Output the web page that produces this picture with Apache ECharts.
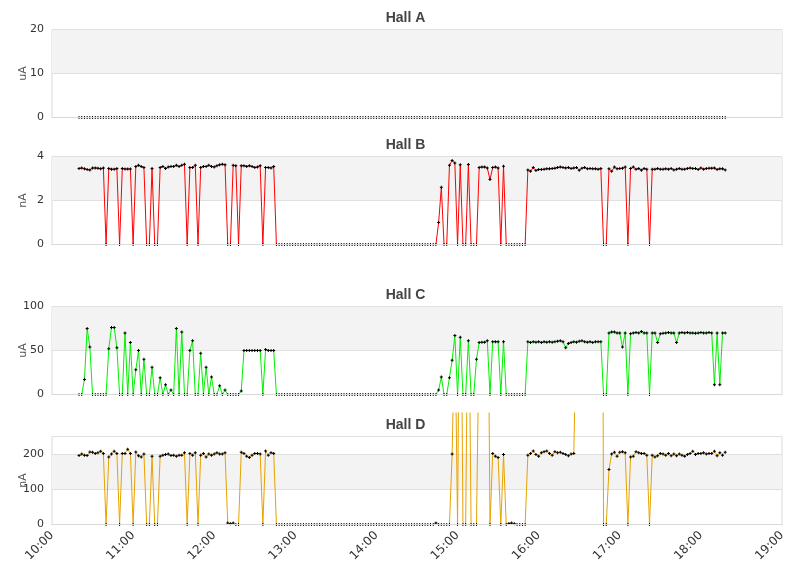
<!DOCTYPE html>
<html><head><meta charset="utf-8">
<script src="https://cdn.jsdelivr.net/npm/echarts@6/dist/echarts.min.js"></script>
<style>html,body{margin:0;padding:0;background:#fff}#chart{width:811px;height:578px}</style>
</head><body><div id="chart"></div><script>
// Sampling: one reading every 2 minutes from 10:20 (minutes since midnight)
const startMinute = 620;
const stepMinutes = 2;
const xTicksMin = 600, xTicksMax = 1140, xTickStep = 60;

const hallA = [
0,0,0,0,0,0,0,0,0,0,0,0,0,0,0,0,0,0,0,0,
0,0,0,0,0,0,0,0,0,0,0,0,0,0,0,0,0,0,0,0,
0,0,0,0,0,0,0,0,0,0,0,0,0,0,0,0,0,0,0,0,
0,0,0,0,0,0,0,0,0,0,0,0,0,0,0,0,0,0,0,0,
0,0,0,0,0,0,0,0,0,0,0,0,0,0,0,0,0,0,0,0,
0,0,0,0,0,0,0,0,0,0,0,0,0,0,0,0,0,0,0,0,
0,0,0,0,0,0,0,0,0,0,0,0,0,0,0,0,0,0,0,0,
0,0,0,0,0,0,0,0,0,0,0,0,0,0,0,0,0,0,0,0,
0,0,0,0,0,0,0,0,0,0,0,0,0,0,0,0,0,0,0,0,
0,0,0,0,0,0,0,0,0,0,0,0,0,0,0,0,0,0,0,0,
0,0,0,0,0,0,0,0,0,0,0,0,0,0,0,0,0,0,0,0,
0,0,0,0,0,0,0,0,0,0,0,0,0,0,0,0,0,0,0,0
];

const hallB = [
3.45,3.48,3.44,3.41,3.39,3.48,3.48,3.47,3.44,3.48,
0,3.45,3.42,3.42,3.45,0,3.45,3.43,3.43,3.43,
0,3.55,3.6,3.55,3.5,0,0,3.45,0,0,
3.5,3.55,3.45,3.52,3.55,3.55,3.6,3.55,3.6,3.65,
0,3.5,3.5,3.6,0,3.5,3.55,3.55,3.6,3.55,
3.52,3.58,3.62,3.65,3.62,0,0,3.6,3.58,0,
3.58,3.58,3.55,3.58,3.55,3.5,3.52,3.58,0,3.5,
3.5,3.48,3.55,0,0,0,0,0,0,0,
0,0,0,0,0,0,0,0,0,0,
0,0,0,0,0,0,0,0,0,0,
0,0,0,0,0,0,0,0,0,0,
0,0,0,0,0,0,0,0,0,0,
0,0,0,0,0,0,0,0,0,0,
0,0,0,1.0,2.6,0,0,3.6,3.82,3.7,
0,3.62,0,0,3.64,0,0,0,3.5,3.52,
3.52,3.48,2.95,3.5,3.52,3.48,0,3.56,0,0,
0,0,0,0,0,0,3.39,3.33,3.5,3.36,
3.41,3.41,3.42,3.44,3.44,3.45,3.47,3.5,3.52,3.5,
3.48,3.5,3.45,3.48,3.5,3.38,3.47,3.5,3.44,3.45,
3.44,3.44,3.42,3.45,0,0,3.44,3.33,3.52,3.44,
3.45,3.47,3.52,0,3.45,3.52,3.42,3.45,3.38,3.45,
3.42,0,3.42,3.42,3.45,3.42,3.42,3.44,3.42,3.45,
3.39,3.42,3.45,3.42,3.42,3.45,3.48,3.45,3.45,3.41,
3.48,3.42,3.45,3.47,3.47,3.48,3.41,3.44,3.44,3.39
];

const hallC = [
0,0,17,75,54,0,0,0,0,0,
0,52,76,76,53,0,0,70,0,59,
0,28,50,0,40,0,0,31,0,0,
19,0,11,0,5,0,75,0,71,0,
0,50,61,0,0,47,0,31,0,20,
0,0,10,0,5,0,0,0,0,0,
4,50,50,50,50,50,50,50,0,51,
50,50,50,0,0,0,0,0,0,0,
0,0,0,0,0,0,0,0,0,0,
0,0,0,0,0,0,0,0,0,0,
0,0,0,0,0,0,0,0,0,0,
0,0,0,0,0,0,0,0,0,0,
0,0,0,0,0,0,0,0,0,0,
0,0,0,5,20,0,0,19,39,67,
0,65,0,0,61,0,0,40,59,59.5,
59.5,61,0,60,60,60,0,60,0,0,
0,0,0,0,0,0,60,59,60,59.5,
60,59,60,59.5,60,59.5,60,60.5,61,60,
53,58,59,60,59.5,60.5,61,60,59.5,60,
59,60,60,60,0,0,70,71,71,70,
70,54,70,0,69,70,70.5,70,71.5,70,
70,0,70,70,59,69,69.5,70,70.5,70,
70,59,70,70.5,70,70.5,70,70,69.5,70,
70.5,70,70,70.5,70,11,70,11,70,70
];

const hallD = [
196,200,197,196,206,205,202,204,208,202,
0,192,200,208,202,0,202,202,214,202,
0,206,195,192,200,0,0,194,0,0,
194,197,199,200,196,197,194,197,197,204,
0,202,197,204,0,197,202,192,200,197,
200,204,200,200,204,4,2,4,0,0,
205,202,194,190,197,202,202,200,0,209,
197,204,202,0,0,0,0,0,0,0,
0,0,0,0,0,0,0,0,0,0,
0,0,0,0,0,0,0,0,0,0,
0,0,0,0,0,0,0,0,0,0,
0,0,0,0,0,0,0,0,0,0,
0,0,0,0,0,0,0,0,0,0,
0,0,4,0,0,0,0,0,200,600,
0,1000,0,0,800,0,0,0,550,1500,
1500,950,0,202,194,190,0,199,0,3,
4,2,0,0,0,0,197,202,209,199,
194,204,207,209,202,197,207,204,205,202,
199,195,200,202,600,1400,1500,1600,1500,1500,
1600,1500,1400,2000,0,0,156,200,205,194,
205,207,204,0,192,194,207,204,202,202,
197,0,197,192,195,202,200,197,202,195,
200,195,200,197,194,199,202,208,199,202,
202,204,200,202,202,208,195,204,197,205
];

const times = hallA.map((_, i) => startMinute + i * stepMinutes);

const panelTitles = ['Hall A', 'Hall B', 'Hall C', 'Hall D'];
const panelUnits = ['uA', 'nA', 'uA', 'nA'];
const panelMax = [20, 4, 100, 250];
const panelStep = [10, 2, 50, 100];
const panelData = [hallA, hallB, hallC, hallD];

// layout
const L = 52, R = 29, H = 88;
const tops = [29.5, 156.5, 306.5, 436.5];
const titleTops = [11, 138.5, 288.5, 418.5];
const colors = ['#4572a7', '#ff0000', '#00f000', '#e8a200'];
// Hall D line is drawn in a taller, invisible grid so spikes run past the panel top
const overTop = 413;

const plusSymbol = 'path://M1,0H2V1H3V2H2V3H1V2H0V1H1Z';

const grid = tops.map(t => ({left: L, right: R, top: t, height: H, show: true,
  containLabel: false, outerBoundsMode: 'none',
  borderColor: '#d9d9d9', borderWidth: 1, backgroundColor: 'transparent'}));
grid.push({left: L, right: R, top: overTop, height: tops[3] + H - overTop, show: false,
  containLabel: false, outerBoundsMode: 'none'});

const xAxis = [0,1,2,3,4].map(k => ({
  type: 'value', gridIndex: k, min: xTicksMin, max: xTicksMax, interval: xTickStep,
  show: k < 4, z: 5,
  axisLine: {show: true, lineStyle: {color: '#d9d9d9', width: 1}},
  axisTick: {show: false}, splitLine: {show: false},
  axisLabel: {show: k === 3, rotate: 45, margin: 9, fontSize: 12, color: '#333',
    fontFamily: 'DejaVu Sans', formatter: v => Math.round(v / 60) + ':00'}
}));

const yAxis = [0,1,2,3].map(k => ({
  type: 'value', gridIndex: k, min: 0, max: panelMax[k], interval: panelStep[k],
  name: panelUnits[k], nameLocation: 'middle', nameGap: 23, nameMoveOverlap: false,
  nameTextStyle: {fontSize: 11, color: '#555', fontFamily: 'DejaVu Sans'},
  axisLine: {show: false}, axisTick: {show: false},
  axisLabel: {fontSize: 11, color: '#333', margin: 8, fontFamily: 'DejaVu Sans', showMaxLabel: k !== 3,
    formatter: v => (v % panelStep[k] === 0 ? String(v) : '')},
  splitLine: {show: true, lineStyle: {color: '#e0e0e0'}},
  splitArea: {show: true, areaStyle: {color: ['rgba(255,255,255,0)', '#f3f3f3']}}
}));
yAxis.push({type: 'value', gridIndex: 4, min: 0,
  max: panelMax[3] * (tops[3] + H - overTop) / H, show: false});

const series = panelData.map((arr, k) => ({
  type: 'line', xAxisIndex: k === 3 ? 4 : k, yAxisIndex: k === 3 ? 4 : k,
  data: arr.map((v, i) => [times[i], v]),
  symbol: plusSymbol, symbolSize: 3, showSymbol: true, showAllSymbol: true,
  itemStyle: {color: '#000'}, lineStyle: {color: colors[k], width: 1},
  clip: true, silent: true, emphasis: {disabled: true}, z: 2
}));

const title = panelTitles.map((t, k) => ({
  text: t, left: 'center', top: titleTops[k], padding: 0,
  textStyle: {fontSize: 14, fontWeight: 'bold', color: '#444', fontFamily: 'Liberation Sans'}
}));

const chart = echarts.init(document.getElementById('chart'), null, {renderer: 'canvas'});
chart.setOption({animation: false, backgroundColor: '#fff', title, grid, xAxis, yAxis, series});
</script></body></html>
